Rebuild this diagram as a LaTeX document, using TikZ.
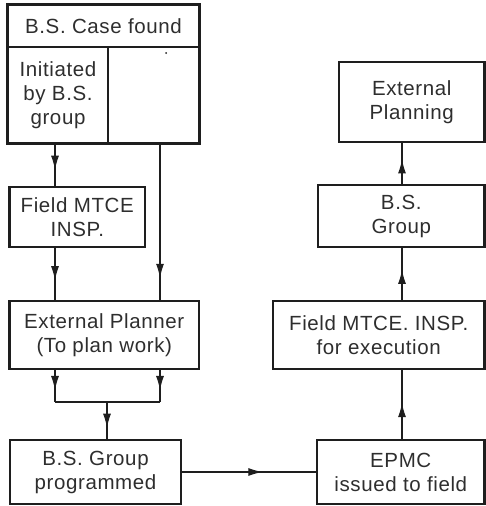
\documentclass[tikz,border=0pt]{standalone}
\usepackage{fontspec}
\setmainfont[LetterSpace=3]{Liberation Sans}
\usetikzlibrary{arrows.meta,decorations.markings}
\definecolor{ink}{HTML}{1E1E1E}
\definecolor{txt}{HTML}{2E2E2E}
\begin{document}
\begin{tikzpicture}[x=1pt,y=-1pt,
  every node/.style={inner sep=0pt,align=center,text=txt,
    font=\fontsize{20.5}{24}\selectfont},
  box/.style={draw=ink,line width=2.8pt,rectangle},
  cell/.style={draw=ink,line width=1.4pt,rectangle},
  conn/.style={draw=ink,line width=1.1pt},
  flow/.style={conn,postaction={decorate},decoration={markings,
    mark=at position #1 with {\arrow[ink,line width=1pt]{Latex[length=14pt,width=8pt]}}}},
  flow/.default=0.6]
\useasboundingbox (0,0) rectangle (486,506);

% connector columns
\coordinate (L) at (55,0);
\coordinate (R) at (160,0);
\coordinate (U) at (402,0);
\coordinate (jn) at (107,402);

% entry box: header plus two cells
\node[cell,minimum width=191pt,minimum height=42pt] (case) at (103.5,26) {B.S. Case found};
\node[cell,minimum width=100pt,minimum height=96pt] (init) at (58,95) {Initiated\\by B.S.\\group};
\node[cell,minimum width=91pt,minimum height=96pt] (blank) at (153.5,95) {};
\draw[ink,line width=2.8pt] (case.north west) rectangle (blank.south east);
\fill[ink] (166,53) circle (1pt);

% left column
\node[box,minimum width=135.5pt,minimum height=60pt] (fmi) at (77.25,217) {Field MTCE\\INSP.};
\node[box,minimum width=189.5pt,minimum height=68pt] (epl) at (104.25,335) {External Planner\\(To plan work)};
\node[box,minimum width=171pt,minimum height=64pt] (bsg) at (95.5,472) {B.S. Group\\programmed};

% right column
\node[box,minimum width=167.5pt,minimum height=64pt] (epmc) at (400.75,472) {EPMC\\issued to field};
\node[box,minimum width=211.5pt,minimum height=68pt] (fmx) at (378.75,335) {Field MTCE. INSP.\\for execution};
\node[box,minimum width=166.5pt,minimum height=62pt] (bsgr) at (401.25,216) {B.S.\\Group};
\node[box,minimum width=145.5pt,minimum height=80pt] (extp) at (411.75,102) {External\\Planning};

% left-hand flow
\draw[flow=0.62] (init.south -| L) -- (fmi.north -| L);
\draw[flow=0.86] (blank.south -| R) -- (epl.north -| R);
\draw[flow=0.62] (fmi.south -| L) -- (epl.north -| L);
\draw[flow=0.62] (epl.south -| L) -- (jn -| L);
\draw[flow=0.62] (epl.south -| R) -- (jn -| R);
\draw[conn] (jn -| L) -- (jn -| R);
\draw[flow=0.7] (jn) -- (bsg.north -| jn);

% across and up the right-hand side
\draw[flow=0.6] (bsg.east) -- (bsg.east -| epmc.west);
\draw[flow=0.52] (epmc.north -| U) -- (fmx.south -| U);
\draw[flow=0.58] (fmx.north -| U) -- (bsgr.south -| U);
\draw[flow=0.6] (bsgr.north -| U) -- (extp.south -| U);
\end{tikzpicture}
\end{document}
